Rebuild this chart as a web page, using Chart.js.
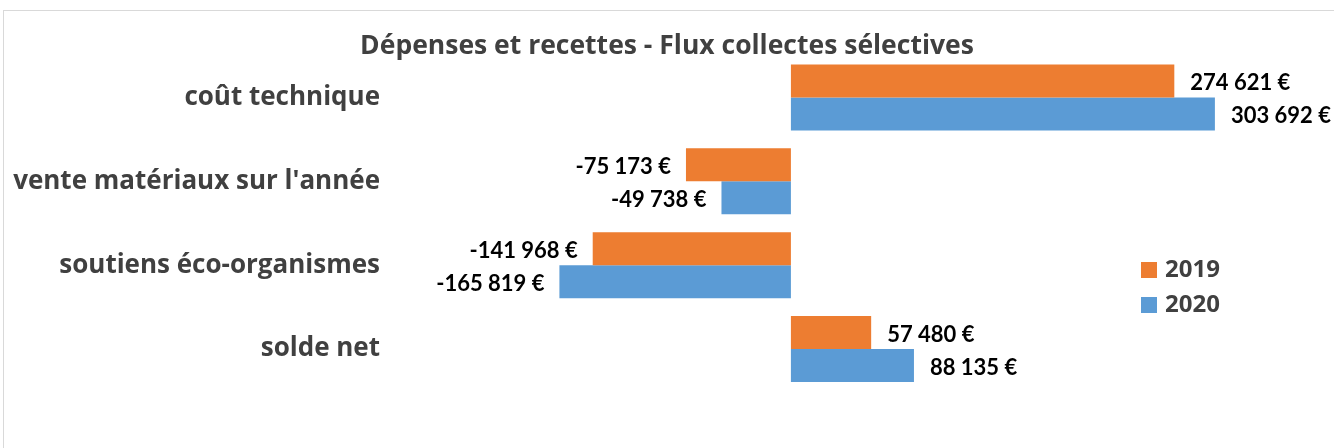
<!DOCTYPE html>
<html>
<head>
<meta charset="utf-8">
<script src="https://cdn.jsdelivr.net/npm/chart.js@4.4.1/dist/chart.umd.min.js"></script>
<style>
  html, body { margin: 0; padding: 0; background: #fff; overflow: hidden; }
  #frame { position: absolute; left: 3px; top: 10px; width: 1400px; height: 500px; border: 1px solid #d9d9d9; pointer-events: none; }
  #myChart { position: absolute; left: 0; top: 0; }
</style>
</head>
<body>
<canvas id="myChart" width="1334" height="448"></canvas>
<div id="frame"></div>
<script>
const categories = ["coût technique", "vente matériaux sur l'année", "soutiens éco-organismes", "solde net"];
const seriesNames = ["2019", "2020"];
const values2019 = [274621, -75173, -141968, 57480];
const values2020 = [303692, -49738, -165819, 88135];
const colors = ['#ED7D31', '#5B9BD5'];

// format like 274 621 €
function euro(v){
    const s = Math.abs(v).toString().replace(/\B(?=(\d{3})+(?!\d))/g, ' ');
    return (v < 0 ? '-' : '') + s + ' €';
}

// data labels at the end of each bar
const barLabels = {
    id: 'barLabels',
    afterDatasetsDraw(chart){
        const ctx = chart.ctx;
        ctx.save();
        ctx.font = 'bold 22px Lato';
        ctx.fillStyle = '#000';
        ctx.textBaseline = 'middle';
        chart.data.datasets.forEach((ds, i) => {
            chart.getDatasetMeta(i).data.forEach((bar, j) => {
                const v = ds.data[j];
                if (v >= 0) { ctx.textAlign = 'left'; ctx.fillText(euro(v), bar.x + 16, bar.y + 2); }
                else { ctx.textAlign = 'right'; ctx.fillText(euro(v), bar.x - 15, bar.y + 2); }
            });
        });
        ctx.restore();
    }
};

// legend sitting inside the plot on the right
const sideLegend = {
    id: 'sideLegend',
    afterDraw(chart){
        const ctx = chart.ctx;
        ctx.save();
        ctx.font = 'bold 24px "Open Sans"';
        ctx.textBaseline = 'middle';
        ctx.textAlign = 'left';
        chart.data.datasets.forEach((ds, i) => {
            const y = 270 + i * 35;
            ctx.fillStyle = ds.backgroundColor;
            ctx.fillRect(1141, y - 8, 16, 16);
            ctx.fillStyle = '#404040';
            ctx.fillText(ds.label, 1165, y);
        });
        ctx.restore();
    }
};

const ctx = document.getElementById('myChart').getContext('2d');
const myChart = new Chart(ctx, {
    type: 'bar',
    data: {
        labels: categories,
        datasets: [
            { label: seriesNames[0], data: values2019, backgroundColor: colors[0] },
            { label: seriesNames[1], data: values2020, backgroundColor: colors[1] }
        ]
    },
    options: {
        indexAxis: 'y',
        responsive: false,
        animation: false,
        categoryPercentage: 0.786,
        barPercentage: 1,
        layout: { padding: { left: 0, right: 0, top: 0, bottom: 57 } },
        plugins: {
            legend: { display: false },
            tooltip: { enabled: false },
            title: {
                display: true,
                text: 'Dépenses et recettes - Flux collectes sélectives',
                color: '#404040',
                font: { family: '"Open Sans"', size: 26.5, weight: 'bold', lineHeight: 1 },
                padding: { top: 33, bottom: -4 }
            }
        },
        scales: {
            x: {
                min: -280000,
                max: 389000,
                ticks: { display: false, stepSize: 50000 },
                border: { display: false },
                grid: {
                    drawTicks: false,
                    color: c => c.tick && c.tick.value === 0 ? '#d9d9d9' : 'rgba(0,0,0,0)'
                }
            },
            y: {
                afterFit(scale){ scale.width = 400; },
                border: { display: false },
                grid: { display: false, drawTicks: false },
                ticks: {
                    padding: 20,
                    color: '#404040',
                    font: { family: '"Open Sans"', size: 26, weight: 'bold' }
                }
            }
        }
    },
    plugins: [barLabels, sideLegend]
});
</script>
</body>
</html>
